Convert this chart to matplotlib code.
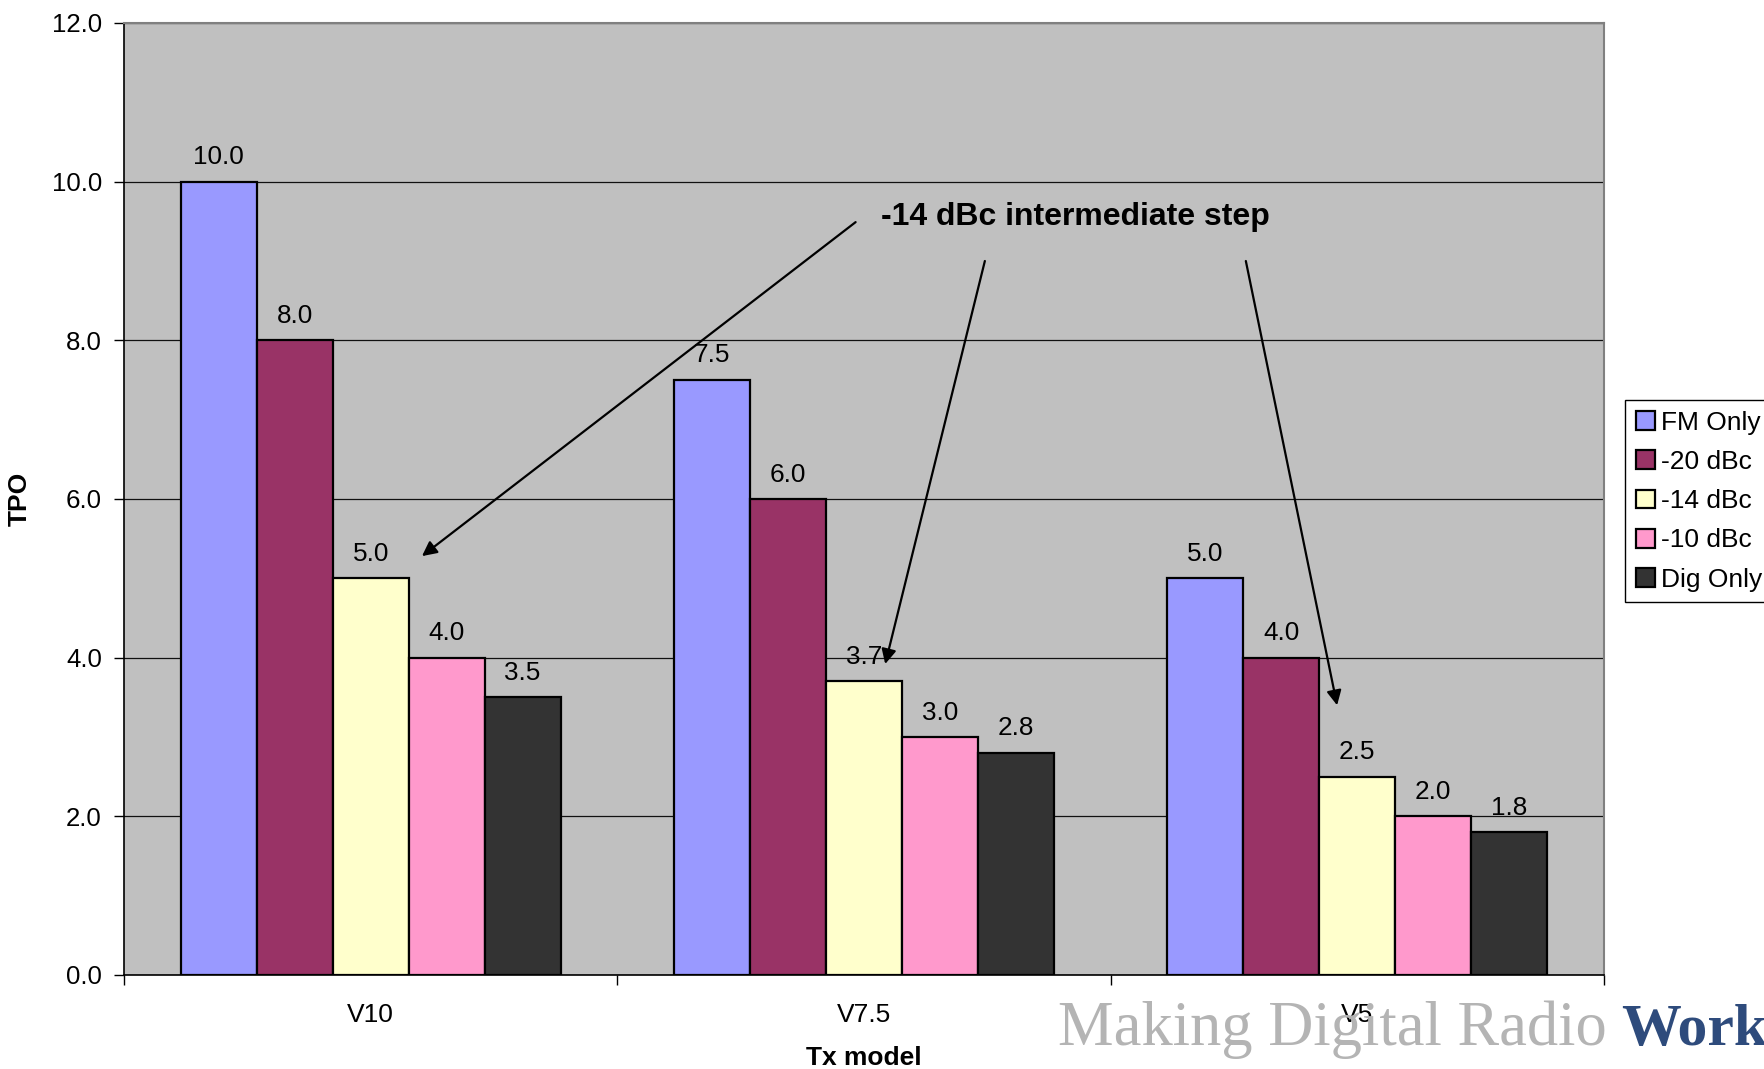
import matplotlib
matplotlib.use("Agg")
import matplotlib.pyplot as plt
import numpy as np

categories = ["V10", "V7.5", "V5"]
series_names = ["FM Only", "-20 dBc", "-14 dBc", "-10 dBc", "Dig Only"]
fm_only = [10.0, 7.5, 5.0]
dbc_20 = [8.0, 6.0, 4.0]
dbc_14 = [5.0, 3.7, 2.5]
dbc_10 = [4.0, 3.0, 2.0]
dig_only = [3.5, 2.8, 1.8]
series_values = [fm_only, dbc_20, dbc_14, dbc_10, dig_only]
colors = ["#9999FF", "#993366", "#FFFFCC", "#FF99CC", "#333333"]
y_ticks = [0.0, 2.0, 4.0, 6.0, 8.0, 10.0, 12.0]

plt.rcParams['font.family'] = ['Liberation Sans', 'DejaVu Sans']

W, H = 1765, 1069
fig = plt.figure(figsize=(W / 100, H / 100), dpi=100)
ax = fig.add_axes([124 / W, 1 - 975 / H, (1604 - 124) / W, (975 - 23) / H])
ax.set_facecolor("#C0C0C0")

x = np.arange(len(categories))
bw = 0.154
n = len(series_names)
for i, (name, vals, c) in enumerate(zip(series_names, series_values, colors)):
    pos = x + (i - (n - 1) / 2) * bw
    ax.bar(pos, vals, width=bw, color=c, edgecolor="black", linewidth=1.6,
           label=name, zorder=3)
    for xp, v in zip(pos, vals):
        ax.annotate(f"{v:.1f}", (xp, v), xytext=(0, 9), textcoords="offset points",
                    ha="center", va="bottom", fontsize=18.8, zorder=5)

ax.set_xlim(-0.5, len(categories) - 0.5)
ax.set_ylim(0, 12)
ax.set_yticks(y_ticks)
ax.set_yticklabels([f"{t:.1f}" for t in y_ticks])
ax.tick_params(axis="y", direction="out", length=7, width=1, pad=9, labelsize=18.6)
ax.yaxis.grid(True, color="#111111", linewidth=0.9, zorder=0)
ax.set_axisbelow(True)

ax.set_xticks(np.arange(len(categories) + 1) - 0.5)
ax.set_xticklabels([])
ax.set_xticks(x, minor=True)
ax.set_xticklabels(categories, minor=True)
ax.tick_params(axis="x", which="major", direction="out", length=7, width=1)
ax.tick_params(axis="x", which="minor", length=0, pad=20, labelsize=19)

for s in ["top", "right"]:
    ax.spines[s].set_color("#808080")
    ax.spines[s].set_linewidth(1.5)
for s in ["left", "bottom"]:
    ax.spines[s].set_color("black")
    ax.spines[s].set_linewidth(1.2)

ax.set_ylabel("TPO", fontsize=19, fontweight="bold", labelpad=14)
ax.set_xlabel("Tx model", fontsize=19, fontweight="bold", labelpad=14)

# annotation
ax.text(1.428, 9.55, "-14 dBc intermediate step", fontsize=23, fontweight="bold",
        ha="center", va="center", zorder=6)
arrows = [((0.983, 9.49), (0.104, 5.28)),
          ((1.245, 9.0), (1.043, 3.92)),
          ((1.774, 9.0), (1.959, 3.40))]
for (sx, sy), (ex, ey) in arrows:
    ax.annotate("", xy=(ex, ey), xytext=(sx, sy),
                arrowprops=dict(arrowstyle="-|>", color="black", lw=1.6,
                                mutation_scale=22, shrinkA=0, shrinkB=0),
                zorder=6)

leg = ax.legend(loc="upper left", bbox_to_anchor=(1625 / W, 1 - 400 / H),
                bbox_transform=fig.transFigure, borderaxespad=0, fontsize=19,
                frameon=True, fancybox=False, edgecolor="black", framealpha=1,
                handlelength=0.72, handleheight=0.72, handletextpad=0.25,
                labelspacing=0.58, borderpad=0.4)
leg.get_frame().set_linewidth(1.0)

# watermark
fig.text(1058 / W, 1 - 1045 / H, "Making Digital Radio", family="Liberation Serif",
         fontsize=45, color="#B4B4B4", ha="left", va="baseline")
fig.text(1621 / W, 1 - 1045 / H, "Work", family="Liberation Serif", fontsize=43,
         fontweight="bold", color="#2E4B7C", ha="left", va="baseline")

fig.savefig("out.png", dpi=100, facecolor="white")
